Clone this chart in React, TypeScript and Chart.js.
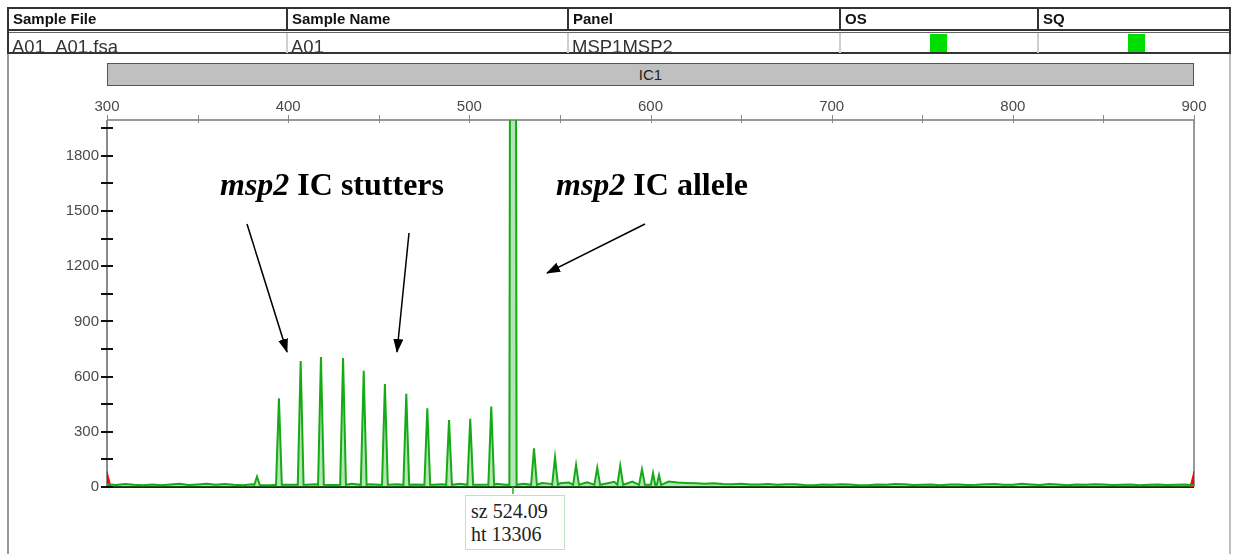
import React, { useEffect, useRef } from "react";
import { Chart, registerables } from "chart.js";

Chart.register(...registerables);

// ---- data ----
const headerColumns = ["Sample File", "Sample Name", "Panel", "OS", "SQ"];
const rowValues = ["A01_A01.fsa", "A01", "MSP1MSP2", "", ""];
const dyeLabel = "IC1";

const xMin = 300;
const xMax = 900;
const yMin = 0;
const yMax = 1995;
const xLabelStep = 100;
const xTickStep = 50;
const yLabelStep = 300;
const yTickStep = 150;

// peaks: size (bp) and height (RFU)
const peakSizes = [382.8, 394.9, 406.9, 418.1, 430.3, 441.7, 453.4, 465.2, 476.8, 488.8, 500.5, 512.1, 524.09, 535.7, 547.3, 558.9, 570.6, 583.3, 595.3, 601.4, 604.7];
const peakHeights = [56, 482, 685, 707, 701, 632, 560, 507, 428, 364, 371, 437, 13306, 210, 161, 120, 105, 116, 96, 76, 65];
const peakHalfWidths = [1.5, 1.6, 1.6, 1.6, 1.6, 1.6, 1.6, 1.6, 1.6, 1.6, 1.6, 1.6, 2.0, 1.6, 1.6, 1.6, 1.6, 1.6, 1.6, 1.2, 1.2];

// baseline noise (every 5 bp, 300..900)
const baselineSizes = [300, 305, 310, 315, 320, 325, 330, 335, 340, 345, 350, 355, 360, 365, 370, 375, 380, 385, 390, 395, 400, 405, 410, 415, 420, 425, 430, 435, 440, 445, 450, 455, 460, 465, 470, 475, 480, 485, 490, 495, 500, 505, 510, 515, 520, 525, 530, 535, 540, 545, 550, 555, 560, 565, 570, 575, 580, 585, 590, 595, 600, 605, 610, 615, 620, 625, 630, 635, 640, 645, 650, 655, 660, 665, 670, 675, 680, 685, 690, 695, 700, 705, 710, 715, 720, 725, 730, 735, 740, 745, 750, 755, 760, 765, 770, 775, 780, 785, 790, 795, 800, 805, 810, 815, 820, 825, 830, 835, 840, 845, 850, 855, 860, 865, 870, 875, 880, 885, 890, 895, 900];
const baselineValues = [15, 11, 16, 12, 10, 14, 9, 13, 18, 11, 14, 17, 12, 16, 12, 10, 15, 11, 10, 14, 12, 16, 12, 15, 16, 11, 13, 17, 12, 15, 12, 16, 15, 11, 14, 16, 12, 15, 13, 18, 15, 12, 14, 17, 12, 15, 18, 14, 22, 17, 20, 24, 19, 25, 22, 18, 28, 24, 30, 26, 35, 40, 30, 24, 22, 20, 18, 21, 16, 15, 17, 14, 14, 16, 12, 15, 15, 11, 10, 13, 12, 15, 14, 10, 10, 13, 12, 16, 15, 11, 12, 14, 10, 13, 14, 11, 12, 15, 16, 12, 12, 17, 14, 11, 16, 13, 10, 14, 12, 15, 14, 11, 12, 14, 10, 12, 13, 11, 12, 14, 10];

// off-scale/primer markers at both ends
const leftMarker = [{ x: 300, y: 0 }, { x: 300, y: 85 }, { x: 302.2, y: 0 }];
const rightMarker = [{ x: 897.8, y: 0 }, { x: 900, y: 85 }, { x: 900, y: 0 }];

const sizedPeak = { sz: "524.09", ht: "13306", size: 524.09 };
const annotationStutters = { italic: "msp2", bold: " IC stutters" };
const annotationAllele = { italic: "msp2", bold: " IC allele" };

function buildTrace() {
  const pts: { x: number; y: number }[] = [];
  for (let i = 0; i < baselineSizes.length; i++) {
    const s = baselineSizes[i];
    let near = false;
    for (let j = 0; j < peakSizes.length; j++) {
      if (Math.abs(peakSizes[j] - s) < peakHalfWidths[j] + 0.3) near = true;
    }
    if (!near) pts.push({ x: s, y: baselineValues[i] });
  }
  for (let j = 0; j < peakSizes.length; j++) {
    const c = peakSizes[j];
    const w = peakHalfWidths[j];
    pts.push({ x: c - w, y: 12 });
    pts.push({ x: c, y: peakHeights[j] });
    pts.push({ x: c + w, y: 12 });
  }
  pts.sort((a, b) => a.x - b.x);
  return pts;
}

const FONT = "'Liberation Sans', Arial, sans-serif";
const SERIF = "'Liberation Serif', 'Times New Roman', serif";

const framePlugin = {
  id: "framePlugin",
  beforeDatasetsDraw(chart: any) {
    const { ctx, chartArea } = chart;
    const { left, right, top, bottom } = chartArea;
    ctx.save();
    ctx.lineWidth = 2;
    ctx.strokeStyle = "#9a9a9a";
    ctx.beginPath();
    ctx.moveTo(left, top);
    ctx.lineTo(right, top);
    ctx.stroke();
    ctx.strokeStyle = "#8a8a8a";
    ctx.beginPath();
    ctx.moveTo(left, top);
    ctx.lineTo(left, bottom);
    ctx.stroke();
    ctx.strokeStyle = "#9a9a9a";
    ctx.beginPath();
    ctx.moveTo(right, top);
    ctx.lineTo(right, bottom);
    ctx.stroke();
    ctx.strokeStyle = "#222";
    ctx.beginPath();
    ctx.moveTo(left, bottom);
    ctx.lineTo(right, bottom);
    ctx.stroke();
    ctx.restore();
  },
  afterDraw(chart: any) {
    const { ctx, chartArea, scales } = chart;
    const { left, top, bottom } = chartArea;
    ctx.save();
    ctx.strokeStyle = "#111";
    ctx.lineWidth = 2;
    for (const t of scales.y.ticks) {
      const y = Math.round(scales.y.getPixelForValue(t.value));
      ctx.beginPath();
      ctx.moveTo(left - 6, y);
      ctx.lineTo(left + 6, y);
      ctx.stroke();
    }
    ctx.strokeStyle = "#888";
    ctx.lineWidth = 1;
    for (const t of scales.x.ticks) {
      const x = Math.round(scales.x.getPixelForValue(t.value)) + 0.5;
      ctx.beginPath();
      ctx.moveTo(x, top - 5);
      ctx.lineTo(x, top + 3);
      ctx.stroke();
    }
    const px = scales.x.getPixelForValue(sizedPeak.size);
    ctx.strokeStyle = "#22aa22";
    ctx.lineWidth = 1.5;
    ctx.beginPath();
    ctx.moveTo(px, bottom);
    ctx.lineTo(px, bottom + 7);
    ctx.stroke();
    ctx.restore();
  },
};

function ChartCanvas() {
  const ref = useRef<HTMLCanvasElement | null>(null);
  useEffect(() => {
    if (!ref.current) return;
    const chart = new Chart(ref.current, {
      type: "scatter",
      data: {
        datasets: [
          {
            data: buildTrace(),
            showLine: true,
            borderColor: "#16aa16",
            backgroundColor: "rgba(40,180,40,0.35)",
            borderWidth: 2,
            pointRadius: 0,
            fill: "origin",
            tension: 0,
          },
          {
            data: leftMarker,
            showLine: true,
            borderColor: "#ff0000",
            backgroundColor: "#ff0000",
            borderWidth: 1,
            pointRadius: 0,
            fill: "origin",
          },
          {
            data: rightMarker,
            showLine: true,
            borderColor: "#ff0000",
            backgroundColor: "#ff0000",
            borderWidth: 1,
            pointRadius: 0,
            fill: "origin",
          },
        ],
      } as any,
      options: {
        animation: false,
        responsive: false,
        maintainAspectRatio: false,
        layout: { padding: { left: 0, top: 0, right: 41, bottom: 67 } },
        plugins: { legend: { display: false }, tooltip: { enabled: false } },
        events: [],
        scales: {
          x: {
            type: "linear",
            position: "top",
            min: xMin,
            max: xMax,
            grid: { display: false, drawTicks: false },
            border: { display: false },
            afterFit: (s: any) => {
              s.height = 120;
            },
            ticks: {
              stepSize: xTickStep,
              includeBounds: false,
              autoSkip: false,
              maxRotation: 0,
              padding: 4,
              color: "#4a4a4a",
              font: { family: FONT, size: 15 },
              callback: (v: any) => (Number(v) % xLabelStep === 0 ? String(v) : ""),
            },
          },
          y: {
            type: "linear",
            position: "left",
            min: yMin,
            max: yMax,
            grid: { display: false, drawTicks: false },
            border: { display: false },
            afterFit: (s: any) => {
              s.width = 107;
            },
            ticks: {
              stepSize: yTickStep,
              includeBounds: false,
              autoSkip: false,
              padding: 8,
              color: "#4a4a4a",
              font: { family: FONT, size: 15 },
              callback: (v: any) => (Number(v) % yLabelStep === 0 ? String(v) : ""),
            },
          },
        },
      } as any,
      plugins: [framePlugin],
    });
    return () => chart.destroy();
  }, []);
  return <canvas ref={ref} width={1235} height={554} style={{ position: "absolute", left: 0, top: 0, width: 1235, height: 554 }} />;
}

const colEdges = [8, 287, 568, 840, 1038, 1230];

function line(key: string, x: number, y: number, w: number, h: number, c: string) {
  return <div key={key} style={{ position: "absolute", left: x, top: y, width: w, height: h, background: c }} />;
}

const annStyle: any = { position: "absolute", top: 165, fontFamily: SERIF, fontSize: 32, fontWeight: 700, lineHeight: "38px", color: "#000", whiteSpace: "nowrap" };

export default function App() {
  const lines: any[] = [];
  lines.push(line("t", 7, 7, 1224, 2, "#333"));
  lines.push(line("d1", 7, 29, 1224, 2, "#333"));
  lines.push(line("d2", 7, 32, 1224, 1, "#666"));
  lines.push(line("b", 7, 52, 1224, 2, "#333"));
  lines.push(line("lo", 7, 7, 2, 47, "#333"));
  lines.push(line("ro", 1229, 7, 2, 47, "#333"));
  lines.push(line("lo2", 7, 54, 2, 500, "#9a9a9a"));
  lines.push(line("ro2", 1229, 54, 2, 500, "#bdbdbd"));
  for (let i = 1; i < colEdges.length - 1; i++) {
    lines.push(line("hc" + i, colEdges[i] - 1, 8, 2, 22, "#333"));
    lines.push(line("rc" + i, colEdges[i] - 1, 33, 2, 20, "#cfcfcf"));
  }
  return (
    <div style={{ position: "absolute", left: 0, top: 0, width: 1235, height: 554, background: "#fff", overflow: "hidden" }}>
      <ChartCanvas />
      {headerColumns.map((h, i) => (
        <div key={"h" + i} style={{ position: "absolute", left: colEdges[i] + 5, top: 9, height: 20, lineHeight: "20px", fontFamily: FONT, fontWeight: "bold", fontSize: 15, color: "#111", whiteSpace: "nowrap" }}>
          {h}
        </div>
      ))}
      {rowValues.map((v, i) => (
        <div key={"r" + i} style={{ position: "absolute", left: colEdges[i] + 4, top: 33, height: 20, overflow: "hidden", fontFamily: FONT, fontSize: 18.5, lineHeight: "28px", color: "#333", whiteSpace: "nowrap" }}>
          {v}
        </div>
      ))}
      <div style={{ position: "absolute", left: 930, top: 34, width: 17, height: 18, background: "#00dd00" }} />
      <div style={{ position: "absolute", left: 1128, top: 34, width: 17, height: 18, background: "#00dd00" }} />
      {lines}
      <div style={{ position: "absolute", left: 107, top: 63, width: 1087, height: 23, boxSizing: "border-box", background: "#c0c0c0", border: "1px solid #555", fontFamily: FONT, fontSize: 15, lineHeight: "21px", textAlign: "center", color: "#222" }}>
        {dyeLabel}
      </div>
      <div style={{ ...annStyle, left: 220 }}>
        <i>{annotationStutters.italic}</i>
        <span>{annotationStutters.bold}</span>
      </div>
      <div style={{ ...annStyle, left: 556 }}>
        <i>{annotationAllele.italic}</i>
        <span>{annotationAllele.bold}</span>
      </div>
      <svg width={1235} height={554} style={{ position: "absolute", left: 0, top: 0 }}>
        <defs>
          <marker id="ah" markerWidth="14" markerHeight="10" refX="13" refY="5" orient="auto" markerUnits="userSpaceOnUse">
            <path d="M0,0 L14,5 L0,10 z" fill="#000" />
          </marker>
        </defs>
        <line x1={247} y1={224} x2={287} y2={352} stroke="#000" strokeWidth={1.5} markerEnd="url(#ah)" />
        <line x1={409} y1={233} x2={397} y2={352} stroke="#000" strokeWidth={1.5} markerEnd="url(#ah)" />
        <line x1={645} y1={224} x2={547} y2={273} stroke="#000" strokeWidth={1.5} markerEnd="url(#ah)" />
      </svg>
      <div style={{ position: "absolute", left: 465, top: 495, width: 100, height: 55, boxSizing: "border-box", border: "1px solid #bfe3bf", background: "#fff", fontFamily: SERIF, fontSize: 20, lineHeight: "23px", color: "#222", paddingLeft: 5, paddingTop: 4 }}>
        <div>sz {sizedPeak.sz}</div>
        <div>ht {sizedPeak.ht}</div>
      </div>
    </div>
  );
}
